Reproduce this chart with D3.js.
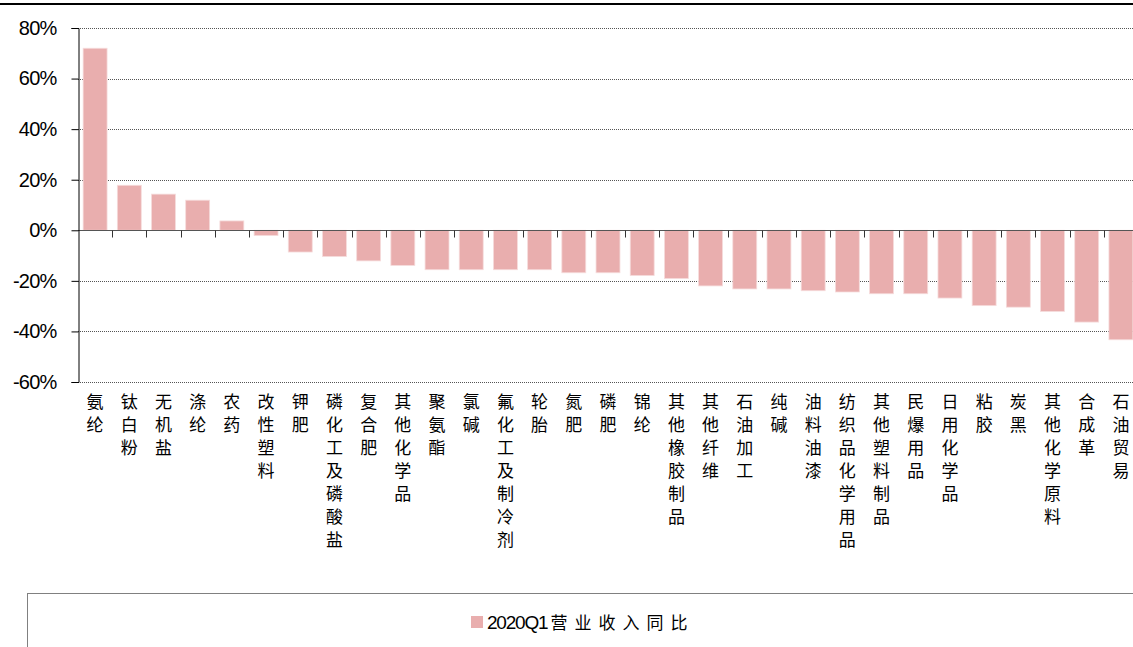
<!doctype html>
<html>
<head>
<meta charset="UTF-8">
<title>2020Q1营业收入同比</title>
<script src="https://cdn.jsdelivr.net/npm/d3@7"></script>
<style>
  body { margin: 0; background: #fff; }
  svg { display: block; }
</style>
</head>
<body>
<svg id="chart" width="1133" height="647"></svg>
<script>
var categories = ["氨纶","钛白粉","无机盐","涤纶","农药","改性塑料","钾肥","磷化工及磷酸盐","复合肥","其他化学品",
                  "聚氨酯","氯碱","氟化工及制冷剂","轮胎","氮肥","磷肥","锦纶","其他橡胶制品","其他纤维","石油加工",
                  "纯碱","油料油漆","纺织品化学用品","其他塑料制品","民爆用品","日用化学品","粘胶","炭黑","其他化学原料","合成革","石油贸易"];
var revenueYoY = [72.0, 17.8, 14.3, 11.9, 3.7, -2.1, -8.6, -10.4, -12.1, -13.9,
                  -15.6, -15.6, -15.6, -15.6, -16.8, -16.8, -17.9, -19.1, -22.0, -23.2,
                  -23.2, -23.9, -24.4, -25.1, -25.1, -26.8, -29.8, -30.4, -32.1, -36.3, -43.3];
var yTicks = [80, 60, 40, 20, 0, -20, -40, -60];
var seriesName = "2020Q1营业收入同比";

var svg = d3.select("#chart");
var plotLeft = 78, plotRight = 1138, plotTop = 28, plotBottom = 382;
var barColor = "#e9aeae";

var x = d3.scaleBand().domain(categories).range([plotLeft, plotRight]).paddingInner(0.3).paddingOuter(0.15);
var y = d3.scaleLinear().domain([-60, 80]).range([plotBottom, plotTop]);

// top rule
svg.append("line").attr("x1", 0).attr("x2", 1133).attr("y1", 4).attr("y2", 4)
    .attr("stroke", "#000").attr("stroke-width", 2);

// gridlines
svg.append("g").selectAll("line").data(yTicks.filter(function(d) { return d !== 0; }))
    .enter().append("line")
    .attr("x1", plotLeft).attr("x2", 1133)
    .attr("y1", function(d) { return Math.round(y(d)) + 0.5; })
    .attr("y2", function(d) { return Math.round(y(d)) + 0.5; })
    .attr("stroke", "#555").attr("stroke-dasharray", "1,1");

// bars
svg.append("g").selectAll("rect").data(revenueYoY).enter().append("rect")
    .attr("x", function(d, i) { return x(categories[i]); })
    .attr("width", x.bandwidth())
    .attr("y", function(d) { return y(Math.max(0, d)); })
    .attr("height", function(d) { return Math.abs(y(d) - y(0)); })
    .attr("fill", barColor)
    .attr("stroke", "#f6dcdc").attr("stroke-width", 0.8);

// zero line + category ticks
var zeroY = Math.round(y(0)) + 0.5;
svg.append("line").attr("x1", plotLeft).attr("x2", 1133).attr("y1", zeroY).attr("y2", zeroY)
    .attr("stroke", "#555").attr("stroke-width", 1.2);
svg.append("g").selectAll("line").data(d3.range(1, categories.length + 1)).enter().append("line")
    .attr("x1", function(i) { return Math.round(plotLeft + i * x.step()) + 0.5; })
    .attr("x2", function(i) { return Math.round(plotLeft + i * x.step()) + 0.5; })
    .attr("y1", zeroY).attr("y2", zeroY + 7)
    .attr("stroke", "#333");

// y axis
var yAxis = d3.axisLeft(y).tickValues(yTicks).tickSize(7).tickPadding(15)
    .tickFormat(function(d) { return d + "%"; });
var ya = svg.append("g").attr("transform", "translate(" + (plotLeft + 0.5) + ",0)").call(yAxis);
ya.select(".domain").attr("stroke", "#000");
ya.selectAll(".tick line").attr("stroke", "#000");
ya.selectAll(".tick text").attr("font-family", "'Liberation Sans', Arial, sans-serif")
    .attr("font-size", 20).attr("fill", "#000").attr("letter-spacing", -0.8);

// vertical category labels
var pitch = 23;
var lab = svg.append("g").attr("font-family", "'Noto Sans CJK SC', sans-serif")
    .attr("font-size", 17).attr("fill", "#000");
categories.forEach(function(c) {
    var cx = x(c) + x.bandwidth() / 2;
    var t = lab.append("text").attr("text-anchor", "middle");
    c.split("").forEach(function(ch, k) {
        t.append("tspan").attr("x", cx).attr("y", 408 + k * pitch).text(ch);
    });
});

// legend
svg.append("rect").attr("x", 27.5).attr("y", 593.5).attr("width", 1120).attr("height", 80)
    .attr("fill", "none").attr("stroke", "#808080");
svg.append("rect").attr("x", 471).attr("y", 616).attr("width", 12).attr("height", 12).attr("fill", barColor);
var lt = svg.append("text").attr("x", 487).attr("y", 629).attr("fill", "#000");
lt.append("tspan").attr("font-family", "'Liberation Sans', Arial, sans-serif").attr("font-size", 19)
    .attr("letter-spacing", -1.2).text(seriesName.slice(0, 6));
lt.append("tspan").attr("font-family", "'Noto Sans CJK SC', sans-serif").attr("font-size", 17)
    .attr("letter-spacing", 7).attr("dx", 3).text(seriesName.slice(6));
</script>
</body>
</html>
